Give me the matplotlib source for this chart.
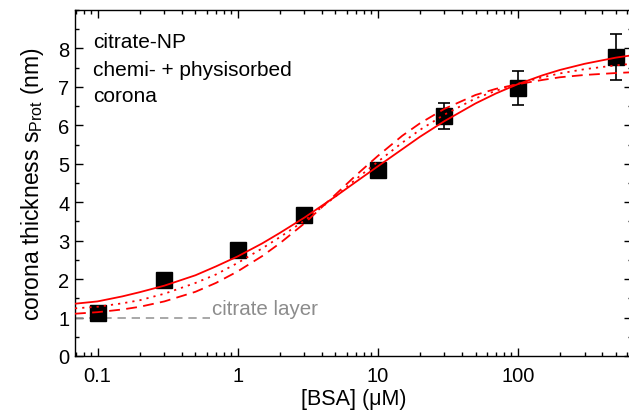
import matplotlib
matplotlib.use("Agg")
import matplotlib.pyplot as plt
from matplotlib.ticker import FixedLocator, FixedFormatter, LogLocator, NullFormatter, MultipleLocator

plt.rcParams['font.family'] = ['Liberation Sans', 'DejaVu Sans']
plt.rcParams['mathtext.fontset'] = 'custom'
plt.rcParams['mathtext.rm'] = 'Liberation Sans'

# measured data
conc = [0.1, 0.3, 1, 3, 10, 30, 100, 500]
thick = [1.12, 1.98, 2.77, 3.68, 4.84, 6.24, 6.97, 7.78]
thick_err = [0.08, 0.08, 0.1, 0.1, 0.12, 0.33, 0.45, 0.59]

# fit curves
curve_x = [0.069, 0.1, 0.15, 0.2, 0.3, 0.5, 0.7, 1, 1.5, 2, 3, 5, 7, 10,
           15, 20, 30, 50, 70, 100, 150, 200, 300, 500, 650]
fit_solid = [1.36, 1.42, 1.55, 1.66, 1.83, 2.10, 2.33, 2.59, 2.93, 3.20, 3.60,
             4.15, 4.53, 4.93, 5.38, 5.70, 6.11, 6.57, 6.83, 7.07, 7.30, 7.44,
             7.60, 7.76, 7.82]
fit_dotted = [1.24, 1.28, 1.37, 1.45, 1.62, 1.90, 2.12, 2.42, 2.80, 3.09, 3.52,
              4.15, 4.60, 5.05, 5.55, 5.88, 6.28, 6.70, 6.90, 7.08, 7.25, 7.35,
              7.46, 7.56, 7.60]
fit_dashed = [1.10, 1.14, 1.21, 1.28, 1.42, 1.67, 1.90, 2.20, 2.60, 2.93, 3.45,
              4.20, 4.70, 5.20, 5.73, 6.05, 6.43, 6.79, 6.95, 7.07, 7.18, 7.25,
              7.31, 7.36, 7.38]

citrate_x = [0.069, 0.64]
citrate_y = [1.0, 1.0]

xticks = [0.1, 1, 10, 100]
xticklabels = ['0.1', '1', '10', '100']
yticks = [0, 1, 2, 3, 4, 5, 6, 7, 8]

W, H = 629, 414
fig = plt.figure(figsize=(W/100, H/100), dpi=100)
ax = fig.add_axes([75/W, 57/H, 557/W, 346/H])

ax.plot(citrate_x, citrate_y, color='#999999', lw=1.2, ls=(0, (5, 3.5)), zorder=2)
ax.text(0.66, 1.24, 'citrate layer', color='#8c8c8c', fontsize=14.8, va='center', ha='left')

ax.errorbar(conc, thick, yerr=thick_err, fmt='s', color='black', ms=11,
            ecolor='black', elinewidth=1.2, capsize=4.5, capthick=1.2, zorder=3)

ax.plot(curve_x, fit_solid, color='red', lw=1.3, ls='-', zorder=4)
ax.plot(curve_x, fit_dotted, color='red', lw=1.3, ls=(0, (1.2, 2.8)), zorder=4)
ax.plot(curve_x, fit_dashed, color='red', lw=1.3, ls=(0, (6, 3.5)), zorder=4)

ax.set_xscale('log')
ax.set_xlim(0.069, 655)
ax.set_ylim(0, 9)
ax.xaxis.set_major_locator(FixedLocator(xticks))
ax.xaxis.set_major_formatter(FixedFormatter(xticklabels))
ax.xaxis.set_minor_locator(LogLocator(base=10, subs=range(2, 10), numticks=20))
ax.xaxis.set_minor_formatter(NullFormatter())
ax.yaxis.set_major_locator(FixedLocator(yticks))
ax.yaxis.set_minor_locator(MultipleLocator(0.5))

ax.tick_params(which='both', direction='in', top=True, right=True, width=1.0)
ax.tick_params(which='major', length=6, labelsize=14.5)
ax.tick_params(axis='x', which='major', pad=7.5)
ax.tick_params(axis='y', which='major', pad=4)
ax.tick_params(which='minor', length=3)
for s in ax.spines.values():
    s.set_linewidth(1.0)

ax.set_xlabel('[BSA] (\u03bcM)', fontsize=15.5, labelpad=2)
ax.set_ylabel(r'corona thickness $\mathregular{s_{Prot}}$ (nm)', fontsize=16.5, labelpad=9)

ax.text(93/W, 1 - 43/H, 'citrate-NP', transform=fig.transFigure, fontsize=15, va='center')
ax.text(93/W, 1 - 70/H, 'chemi- + physisorbed', transform=fig.transFigure, fontsize=15, va='center')
ax.text(93/W, 1 - 97/H, 'corona', transform=fig.transFigure, fontsize=15, va='center')

fig.savefig('out.png', dpi=100)
